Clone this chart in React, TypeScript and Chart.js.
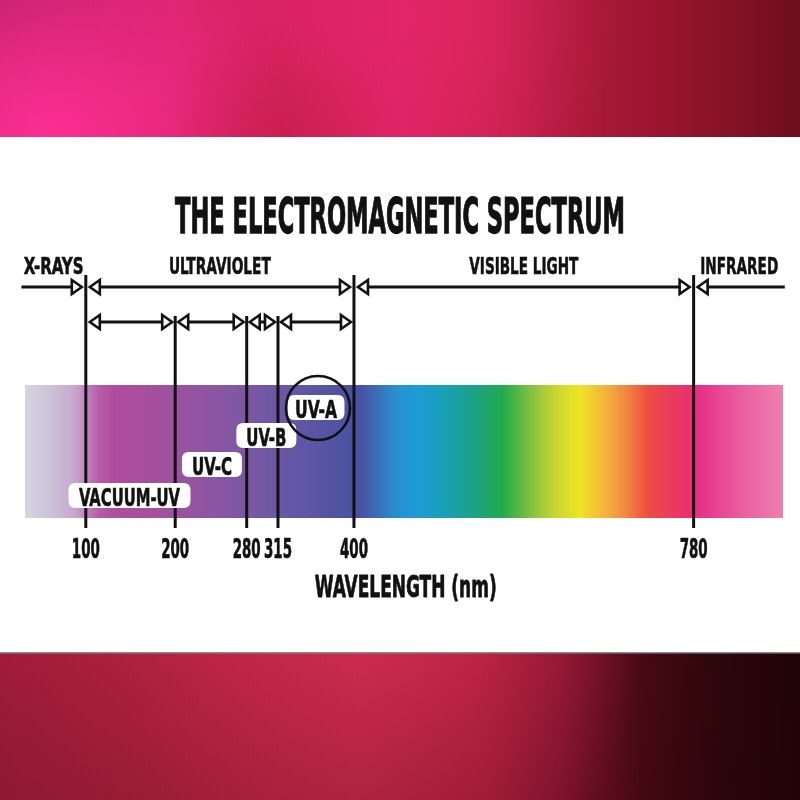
import React, { useEffect, useRef } from "react";
import { Chart, registerables } from "chart.js";

Chart.register(...registerables);

// ---------------- data ----------------
const TITLE = "THE ELECTROMAGNETIC SPECTRUM";
const AXIS_TITLE = "WAVELENGTH (nm)";
const BOUNDARIES_NM = [100, 200, 280, 315, 400, 780];
const TICK_LABELS = ["100", "200", "280", "315", "400", "780"];
const MAJOR_BOUNDARIES_NM = [100, 400, 780];
const REGION_NAMES = ["X-RAYS", "ULTRAVIOLET", "VISIBLE LIGHT", "INFRARED"];
const REGION_EDGES_NM = [28, 100, 400, 780, 882];
const UV_BAND_NAMES = ["VACUUM-UV", "UV-C", "UV-B", "UV-A"];
const UV_BAND_EDGES_NM = [100, 200, 280, 315, 400];
const HIGHLIGHTED_BAND = "UV-A";
const SPECTRUM_RANGE_NM = [32, 880];
const AXIS_RANGE_NM = [4, 899];

// ---------------- layout / style ----------------
const W = 800;
const H = 800;
const L = {
  topBandEnd: 137,
  bottomBandStart: 653,
  titleBaseline: 233,
  titleCap: 36,
  titleWidth: 450,
  regionBaseline: 274,
  regionCap: 17,
  regionWidths: [60, 102, 109, 78],
  topRowY: 287,
  subRowY: 322,
  majorTop: 275,
  minorTop: 316,
  lineBottom: 528,
  bandTop: 385,
  bandBottom: 518,
  tickBaseline: 558,
  tickCap: 19,
  tickWidth: 28,
  axisTitleBaseline: 597,
  axisTitleCap: 22,
  axisTitleWidth: 182,
  boxWidths: [122, 60, 60, 57],
  boxTops: [483, 452, 423, 395],
  boxShift: [-1, 1, 4, 0],
  boxH: 25,
  boxTextCap: 18,
  boxTextWidths: [101, 40, 40, 42],
  circleR: 32,
  circleCy: 408,
};
const INK = "#111111";
const SPECTRUM_STOPS: [number, string][] = [
  [25, "#d4d6e0"],
  [50, "#cdc3d8"],
  [75, "#c6a6cc"],
  [88, "#c07cbc"],
  [100, "#b65aa8"],
  [115, "#b04c9c"],
  [150, "#a64f9e"],
  [180, "#9a52a0"],
  [230, "#8456a2"],
  [280, "#6a58a6"],
  [330, "#5453a2"],
  [360, "#4652a2"],
  [375, "#3c6ab4"],
  [395, "#2a8ed0"],
  [415, "#1f9ad8"],
  [445, "#17a0b4"],
  [470, "#1da08c"],
  [502, "#20aa4c"],
  [530, "#80c040"],
  [555, "#c8d630"],
  [580, "#eee424"],
  [605, "#f2b43a"],
  [625, "#f08a40"],
  [648, "#ee4c40"],
  [670, "#ea3c5c"],
  [690, "#e8306e"],
  [700, "#e8308a"],
  [740, "#ea5c9e"],
  [783, "#ee80b0"],
];
const FONT_STACK =
  '"Liberation Sans Narrow", "DejaVu Sans Condensed", "Liberation Sans", sans-serif';

function drawText(
  ctx: CanvasRenderingContext2D,
  text: string,
  cx: number,
  baseline: number,
  cap: number,
  width: number,
  color = INK
) {
  const size = cap / 0.72;
  ctx.save();
  ctx.font = `bold ${size}px ${FONT_STACK}`;
  const w = ctx.measureText(text).width;
  const sx = width / w;
  ctx.translate(cx, baseline);
  ctx.scale(sx, 1);
  ctx.textAlign = "center";
  ctx.textBaseline = "alphabetic";
  ctx.fillStyle = color;
  ctx.fillText(text, 0, 0);
  ctx.strokeStyle = color;
  ctx.lineWidth = size * 0.025;
  ctx.lineJoin = "round";
  ctx.strokeText(text, 0, 0);
  ctx.restore();
}

function arrowHead(
  ctx: CanvasRenderingContext2D,
  tipX: number,
  y: number,
  dir: 1 | -1
) {
  const len = 10;
  const half = 7;
  ctx.beginPath();
  ctx.moveTo(tipX, y);
  ctx.lineTo(tipX - dir * len, y - half);
  ctx.lineTo(tipX - dir * len, y + half);
  ctx.closePath();
  ctx.fillStyle = "#ffffff";
  ctx.fill();
  ctx.lineWidth = 2.6;
  ctx.strokeStyle = INK;
  ctx.lineJoin = "miter";
  ctx.stroke();
}

function hLine(ctx: CanvasRenderingContext2D, x1: number, x2: number, y: number) {
  ctx.beginPath();
  ctx.moveTo(x1, y);
  ctx.lineTo(x2, y);
  ctx.lineWidth = 3;
  ctx.strokeStyle = INK;
  ctx.stroke();
}

function roundRect(
  ctx: CanvasRenderingContext2D,
  x: number,
  y: number,
  w: number,
  h: number,
  r: number
) {
  ctx.beginPath();
  ctx.moveTo(x + r, y);
  ctx.lineTo(x + w - r, y);
  ctx.quadraticCurveTo(x + w, y, x + w, y + r);
  ctx.lineTo(x + w, y + h - r);
  ctx.quadraticCurveTo(x + w, y + h, x + w - r, y + h);
  ctx.lineTo(x + r, y + h);
  ctx.quadraticCurveTo(x, y + h, x, y + h - r);
  ctx.lineTo(x, y + r);
  ctx.quadraticCurveTo(x, y, x + r, y);
  ctx.closePath();
}

const backgroundPlugin = {
  id: "bgBands",
  beforeDraw(chart: any) {
    const ctx: CanvasRenderingContext2D = chart.ctx;
    ctx.save();
    ctx.fillStyle = "#ffffff";
    ctx.fillRect(0, 0, W, H);

    // top band
    const t = L.topBandEnd;
    let g = ctx.createLinearGradient(0, 0, W, 0);
    g.addColorStop(0, "#e02a80");
    g.addColorStop(0.15, "#dc2672");
    g.addColorStop(0.35, "#d62262");
    g.addColorStop(0.5, "#dc2464");
    g.addColorStop(0.62, "#cc2250");
    g.addColorStop(0.72, "#ae1a3c");
    g.addColorStop(0.85, "#95142c");
    g.addColorStop(1, "#6e0e1c");
    ctx.fillStyle = g;
    ctx.fillRect(0, 0, W, t);
    let r = ctx.createRadialGradient(0, 0, 0, 0, 0, 180);
    r.addColorStop(0, "rgba(140,22,80,0.6)");
    r.addColorStop(1, "rgba(140,22,80,0)");
    ctx.fillStyle = r;
    ctx.fillRect(0, 0, W, t);
    r = ctx.createRadialGradient(50, t, 0, 50, t, 230);
    r.addColorStop(0, "rgba(252,46,148,1)");
    r.addColorStop(0.45, "rgba(246,44,140,0.6)");
    r.addColorStop(1, "rgba(246,44,140,0)");
    ctx.fillStyle = r;
    ctx.fillRect(0, 0, W, t);
    r = ctx.createRadialGradient(420, 20, 0, 420, 20, 200);
    r.addColorStop(0, "rgba(236,40,110,0.45)");
    r.addColorStop(1, "rgba(236,40,110,0)");
    ctx.fillStyle = r;
    ctx.fillRect(0, 0, W, t);
    r = ctx.createRadialGradient(280, t, 0, 280, t, 120);
    r.addColorStop(0, "rgba(190,28,62,0.5)");
    r.addColorStop(1, "rgba(190,28,62,0)");
    ctx.fillStyle = r;
    ctx.fillRect(0, 0, W, t);

    // bottom band
    const b = L.bottomBandStart;
    g = ctx.createLinearGradient(0, 0, W, 0);
    g.addColorStop(0, "#a01c3a");
    g.addColorStop(0.3, "#b82442");
    g.addColorStop(0.45, "#c2284a");
    g.addColorStop(0.6, "#b01f3e");
    g.addColorStop(0.7, "#8a1530");
    g.addColorStop(0.8, "#4a0a14");
    g.addColorStop(0.9, "#2c060a");
    g.addColorStop(1, "#200407");
    ctx.fillStyle = g;
    ctx.fillRect(0, b, W, H - b);
    r = ctx.createRadialGradient(380, b, 0, 380, b, 260);
    r.addColorStop(0, "rgba(215,45,85,0.5)");
    r.addColorStop(1, "rgba(215,45,85,0)");
    ctx.fillStyle = r;
    ctx.fillRect(0, b, W, H - b);
    g = ctx.createLinearGradient(0, b, 0, H);
    g.addColorStop(0, "rgba(40,0,10,0)");
    g.addColorStop(1, "rgba(40,0,10,0.15)");
    ctx.fillStyle = g;
    ctx.fillRect(0, b, W, H - b);
    ctx.fillStyle = "#8a8a8a";
    ctx.fillRect(0, b - 1, W, 1.5);
    ctx.restore();
  },
};

const spectrumPlugin = {
  id: "spectrumBand",
  beforeDatasetsDraw(chart: any) {
    const ctx: CanvasRenderingContext2D = chart.ctx;
    const x = chart.scales.x;
    const y = chart.scales.y;
    const x0 = x.getPixelForValue(SPECTRUM_RANGE_NM[0]);
    const x1 = x.getPixelForValue(SPECTRUM_RANGE_NM[1]);
    const y0 = y.getPixelForValue(L.bandTop);
    const y1 = y.getPixelForValue(L.bandBottom);
    const g = ctx.createLinearGradient(x0, 0, x1, 0);
    const first = SPECTRUM_STOPS[0][0];
    const last = SPECTRUM_STOPS[SPECTRUM_STOPS.length - 1][0];
    SPECTRUM_STOPS.forEach(([p, c]) =>
      g.addColorStop((p - first) / (last - first), c)
    );
    ctx.save();
    ctx.fillStyle = g;
    ctx.fillRect(x0, y0, x1 - x0, y1 - y0);
    ctx.restore();
  },
};

const annotationPlugin = {
  id: "spectrumAnnotations",
  afterDatasetsDraw(chart: any) {
    const ctx: CanvasRenderingContext2D = chart.ctx;
    const xs = chart.scales.x;
    const ys = chart.scales.y;
    const px = (v: number) => xs.getPixelForValue(v);
    const py = (v: number) => ys.getPixelForValue(v);
    ctx.save();

    // title
    drawText(ctx, TITLE, W / 2, py(L.titleBaseline), L.titleCap, L.titleWidth);

    // region labels & top arrow row
    const topY = py(L.topRowY);
    const gap = 4;
    for (let i = 0; i < REGION_NAMES.length; i++) {
      const a = px(REGION_EDGES_NM[i]);
      const bb = px(REGION_EDGES_NM[i + 1]);
      drawText(
        ctx,
        REGION_NAMES[i],
        (a + bb) / 2,
        py(L.regionBaseline),
        L.regionCap,
        L.regionWidths[i]
      );
      const leftIsBoundary = i > 0;
      const rightIsBoundary = i < REGION_NAMES.length - 1;
      const lTip = leftIsBoundary ? a + gap : a;
      const rTip = rightIsBoundary ? bb - gap : bb;
      hLine(ctx, leftIsBoundary ? lTip + 8 : lTip, rightIsBoundary ? rTip - 8 : rTip, topY);
      if (leftIsBoundary) arrowHead(ctx, lTip, topY, -1);
      if (rightIsBoundary) arrowHead(ctx, rTip, topY, 1);
    }

    // UV sub-band arrow row
    const subY = py(L.subRowY);
    const sgap = 3;
    for (let i = 0; i < UV_BAND_NAMES.length; i++) {
      const a = px(UV_BAND_EDGES_NM[i]) + (i === 0 ? gap : sgap);
      const bb = px(UV_BAND_EDGES_NM[i + 1]) - sgap;
      hLine(ctx, a + 8, bb - 8, subY);
      arrowHead(ctx, a, subY, -1);
      arrowHead(ctx, bb, subY, 1);
    }

    // UV band labels in white rounded boxes
    for (let i = 0; i < UV_BAND_NAMES.length; i++) {
      const cx =
        (px(UV_BAND_EDGES_NM[i]) + px(UV_BAND_EDGES_NM[i + 1])) / 2 +
        L.boxShift[i];
      const w = L.boxWidths[i];
      const top = py(L.boxTops[i]);
      roundRect(ctx, cx - w / 2, top, w, L.boxH, 7);
      ctx.fillStyle = "#ffffff";
      ctx.fill();
      drawText(
        ctx,
        UV_BAND_NAMES[i],
        cx,
        top + 22.5,
        L.boxTextCap,
        L.boxTextWidths[i]
      );
      if (UV_BAND_NAMES[i] === HIGHLIGHTED_BAND) {
        ctx.beginPath();
        ctx.arc(cx + 2, py(L.circleCy), L.circleR, 0, Math.PI * 2);
        ctx.lineWidth = 2.6;
        ctx.strokeStyle = INK;
        ctx.stroke();
      }
    }

    // tick labels
    BOUNDARIES_NM.forEach((v, i) => {
      drawText(ctx, TICK_LABELS[i], px(v), py(L.tickBaseline), L.tickCap, L.tickWidth);
    });

    // axis title
    drawText(
      ctx,
      AXIS_TITLE,
      (px(UV_BAND_EDGES_NM[0]) + px(REGION_EDGES_NM[3])) / 2 + 16,
      py(L.axisTitleBaseline),
      L.axisTitleCap,
      L.axisTitleWidth
    );
    ctx.restore();
  },
};

export default function App() {
  const ref = useRef<HTMLCanvasElement | null>(null);
  useEffect(() => {
    if (!ref.current) return;
    const datasets = BOUNDARIES_NM.map((nm) => ({
      label: `${nm} nm`,
      data: [
        { x: nm, y: MAJOR_BOUNDARIES_NM.includes(nm) ? L.majorTop : L.minorTop },
        { x: nm, y: L.lineBottom },
      ],
      showLine: true,
      borderColor: INK,
      borderWidth: 3,
      pointRadius: 0,
      fill: false,
    }));
    const chart = new Chart(ref.current, {
      type: "scatter",
      data: { datasets },
      options: {
        responsive: false,
        animation: false,
        events: [],
        layout: { padding: 0 },
        plugins: {
          legend: { display: false },
          tooltip: { enabled: false },
          title: { display: false },
        },
        scales: {
          x: {
            type: "linear",
            min: AXIS_RANGE_NM[0],
            max: AXIS_RANGE_NM[1],
            display: false,
          },
          y: { type: "linear", min: 0, max: H, reverse: true, display: false },
        },
      },
      plugins: [backgroundPlugin, spectrumPlugin, annotationPlugin],
    } as any);
    return () => chart.destroy();
  }, []);
  return (
    <div style={{ position: "fixed", left: 0, top: 0, width: W, height: H }}>
      <canvas ref={ref} width={W} height={H} style={{ width: W, height: H, display: "block" }} />
    </div>
  );
}
